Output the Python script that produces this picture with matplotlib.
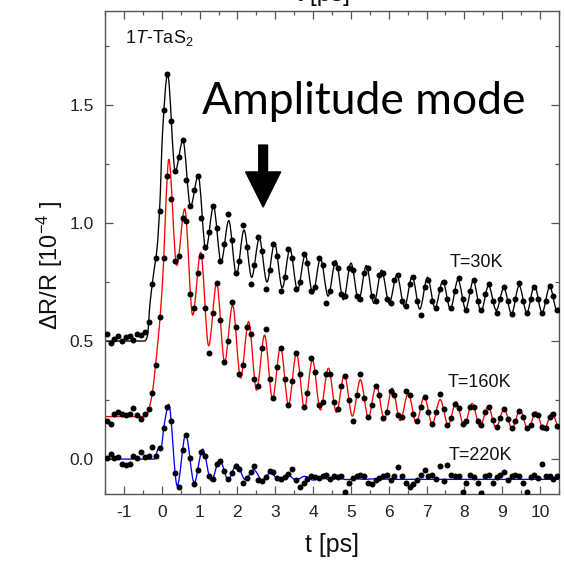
import numpy as np
import matplotlib
matplotlib.use("Agg")
import matplotlib.pyplot as plt
from matplotlib.path import Path
from matplotlib.patches import PathPatch
from matplotlib.ticker import MultipleLocator, FormatStrFormatter

plt.rcParams['font.family'] = ['Liberation Sans', 'DejaVu Sans']
plt.rcParams['mathtext.fontset'] = 'custom'
plt.rcParams['mathtext.rm'] = 'Liberation Sans'
plt.rcParams['mathtext.it'] = 'Liberation Sans:italic'
plt.rcParams['mathtext.sf'] = 'Liberation Sans'
plt.rcParams['axes.unicode_minus'] = False

# ---------------- data ----------------
t_dots = [
    -1.45, -1.35, -1.25, -1.15, -1.05, -0.95, -0.85, -0.75, -0.65, -0.55,
    -0.45, -0.35, -0.25, -0.15, -0.05, 0.05, 0.15, 0.25, 0.35, 0.45,
    0.55, 0.65, 0.75, 0.85, 0.95, 1.05, 1.15, 1.25, 1.35, 1.45,
    1.55, 1.65, 1.75, 1.85, 1.95, 2.05, 2.15, 2.25, 2.35, 2.45,
    2.55, 2.65, 2.75, 2.85, 2.95, 3.05, 3.15, 3.25, 3.35, 3.45,
    3.55, 3.65, 3.75, 3.85, 3.95, 4.05, 4.15, 4.25, 4.35, 4.45,
    4.55, 4.65, 4.75, 4.85, 4.95, 5.05, 5.15, 5.25, 5.35, 5.45,
    5.55, 5.65, 5.75, 5.85, 5.95, 6.05, 6.15, 6.25, 6.35, 6.45,
    6.55, 6.65, 6.75, 6.85, 6.95, 7.05, 7.15, 7.25, 7.35, 7.45,
    7.55, 7.65, 7.75, 7.85, 7.95, 8.05, 8.15, 8.25, 8.35, 8.45,
    8.55, 8.65, 8.75, 8.85, 8.95, 9.05, 9.15, 9.25, 9.35, 9.45,
    9.55, 9.65, 9.75, 9.85, 9.95, 10.05, 10.15, 10.25, 10.35, 10.45]

dots_30K = [
    0.53, 0.49, 0.51, 0.52, 0.50, 0.515, 0.52, 0.505, 0.53, 0.525,
    0.54, 0.58, 0.74, 0.85, 1.05, 1.48, 1.63, 1.43, 1.22, 1.28,
    1.35, 1.18, 1.07, 1.14, 1.20, 1.02, 0.90, 0.96, 1.07, 0.98,
    0.84, 0.91, 1.04, 0.93, 0.79, 0.84, 0.99, 0.90, 0.74, 0.82,
    0.94, 0.88, 0.72, 0.80, 0.91, 0.86, 0.71, 0.77, 0.89, 0.85,
    0.72, 0.75, 0.87, 0.83, 0.71, 0.73, 0.85, 0.82, 0.66, 0.71,
    0.83, 0.81, 0.70, 0.69, 0.81, 0.80, 0.69, 0.68, 0.79, 0.81,
    0.69, 0.67, 0.78, 0.79, 0.68, 0.66, 0.76, 0.78, 0.67, 0.65,
    0.74, 0.77, 0.67, 0.61, 0.73, 0.76, 0.67, 0.64, 0.72, 0.75,
    0.68, 0.64, 0.71, 0.765, 0.68, 0.63, 0.71, 0.76, 0.67, 0.63,
    0.70, 0.74, 0.67, 0.62, 0.68, 0.73, 0.67, 0.615, 0.68, 0.745,
    0.67, 0.62, 0.68, 0.73, 0.68, 0.62, 0.67, 0.735, 0.69, 0.63]

dots_160K = [
    0.16, 0.15, 0.19, 0.20, 0.19, 0.185, 0.19, 0.215, 0.185, 0.17,
    0.19, 0.21, 0.28, 0.40, 0.60, 0.85, 1.20, 1.10, 0.84, 0.86,
    1.02, 1.01, 0.70, 0.64, 0.79, 0.86, 0.64, 0.45, 0.62, 0.745,
    0.59, 0.41, 0.50, 0.665, 0.56, 0.36, 0.40, 0.56, 0.53, 0.34,
    0.31, 0.47, 0.55, 0.34, 0.26, 0.39, 0.47, 0.34, 0.23, 0.33,
    0.45, 0.36, 0.22, 0.28, 0.43, 0.37, 0.23, 0.24, 0.36, 0.36,
    0.24, 0.21, 0.31, 0.35, 0.25, 0.16, 0.27, 0.36, 0.26, 0.18,
    0.23, 0.31, 0.27, 0.175, 0.20, 0.29, 0.27, 0.185, 0.18, 0.29,
    0.27, 0.19, 0.16, 0.22, 0.265, 0.20, 0.15, 0.20, 0.275, 0.21,
    0.145, 0.175, 0.235, 0.215, 0.15, 0.16, 0.22, 0.22, 0.16, 0.145,
    0.20, 0.22, 0.165, 0.135, 0.175, 0.21, 0.17, 0.13, 0.16, 0.205,
    0.18, 0.13, 0.145, 0.19, 0.185, 0.135, 0.13, 0.18, 0.19, 0.14]

dots_220K = [
    0.005, 0.02, 0.005, 0.01, -0.02, -0.025, -0.02, 0.012, 0.005, 0.028,
    0.01, 0.015, 0.05, 0.015, 0.045, 0.13, 0.22, 0.16, -0.06, -0.12,
    0.04, 0.10, 0.005, -0.105, -0.045, 0.03, 0.015, -0.07, -0.085, -0.02,
    -0.01, -0.05, -0.085, -0.06, -0.03, -0.04, -0.10, -0.08, -0.055, -0.03,
    -0.09, -0.095, -0.075, -0.05, -0.055, -0.08, -0.085, -0.075, -0.065, -0.04,
    -0.09, -0.12, -0.10, -0.085, -0.07, -0.075, -0.08, -0.07, -0.068, -0.085,
    -0.07, -0.075, -0.07, -0.14, -0.10, -0.08, -0.07, -0.068, -0.07, -0.10,
    -0.105, -0.09, -0.082, -0.07, -0.068, -0.09, -0.07, -0.035, -0.072, -0.10,
    -0.12, -0.105, -0.09, -0.068, -0.045, -0.07, -0.068, -0.085, -0.03, -0.095,
    -0.025, -0.068, -0.072, -0.07, -0.14, -0.10, -0.068, -0.075, -0.10, -0.145,
    -0.072, -0.068, -0.10, -0.075, -0.068, -0.055, -0.09, -0.072, -0.068, -0.072,
    -0.10, -0.14, -0.075, -0.068, -0.08, -0.02, -0.072, -0.07, -0.085, -0.07]

# fit curves: key points (onset and successive extrema)
fit30_t = [-1.5, -0.45, -0.38, -0.31, -0.22, -0.12, -0.05, 0.02,
           0.155, 0.357, 0.559, 0.761, 0.963, 1.165, 1.367, 1.569, 1.771, 1.973,
           2.175, 2.377, 2.579, 2.781, 2.983, 3.185, 3.387, 3.589, 3.791, 3.993,
           4.195, 4.397, 4.599, 4.801, 5.003, 5.205, 5.407, 5.609, 5.811, 6.013,
           6.215, 6.417, 6.619, 6.821, 7.023, 7.225, 7.427, 7.629, 7.831, 8.033,
           8.235, 8.437, 8.639, 8.841, 9.043, 9.245, 9.447, 9.649, 9.851, 10.053,
           10.255, 10.457, 10.659]
fit30_v = [0.50, 0.50, 0.52, 0.66, 0.78, 0.90, 1.08, 1.38,
           1.63, 1.22, 1.35, 1.07, 1.20, 0.885, 1.07, 0.835, 1.01, 0.78,
           0.97, 0.77, 0.935, 0.75, 0.915, 0.725, 0.89, 0.715, 0.865, 0.70,
           0.85, 0.69, 0.84, 0.675, 0.83, 0.67, 0.82, 0.66, 0.80, 0.66,
           0.78, 0.645, 0.775, 0.635, 0.77, 0.64, 0.755, 0.635, 0.76, 0.635,
           0.755, 0.625, 0.735, 0.63, 0.725, 0.615, 0.735, 0.62, 0.735, 0.62,
           0.73, 0.625, 0.73]

fit160_t = [-1.5, -0.45, -0.38, -0.31, -0.24, -0.17, -0.10, -0.03, 0.05, 0.12,
            0.185, 0.396, 0.607, 0.818, 1.029, 1.240, 1.451, 1.662, 1.873, 2.084,
            2.295, 2.506, 2.717, 2.928, 3.139, 3.350, 3.561, 3.772, 3.983, 4.194,
            4.405, 4.616, 4.827, 5.038, 5.249, 5.460, 5.671, 5.882, 6.093, 6.304,
            6.515, 6.726, 6.937, 7.148, 7.359, 7.570, 7.781, 7.992, 8.203, 8.414,
            8.625, 8.836, 9.047, 9.258, 9.469, 9.680, 9.891, 10.102, 10.313, 10.524]
fit160_v = [0.18, 0.18, 0.19, 0.23, 0.29, 0.39, 0.50, 0.63, 0.84, 1.12,
            1.27, 0.82, 1.06, 0.61, 0.875, 0.48, 0.745, 0.41, 0.652, 0.343,
            0.582, 0.292, 0.525, 0.255, 0.476, 0.23, 0.448, 0.215, 0.42, 0.208,
            0.385, 0.198, 0.358, 0.182, 0.336, 0.176, 0.315, 0.168, 0.30, 0.163,
            0.28, 0.153, 0.265, 0.148, 0.252, 0.144, 0.242, 0.14, 0.236, 0.137,
            0.224, 0.133, 0.212, 0.13, 0.208, 0.125, 0.20, 0.123, 0.196, 0.123]

fit220_t = [-1.5, -0.2, -0.08, -0.03, 0.07,
            0.184, 0.409, 0.633, 0.858, 1.082, 1.307, 1.531, 1.756, 1.98, 2.205,
            2.429, 2.654, 2.878, 3.103, 3.327, 3.552, 3.776, 4.001, 4.225, 4.45,
            4.674, 4.899, 5.123, 5.348, 5.572, 6.2, 10.5]
fit220_v = [0.0, 0.0, 0.045, 0.04, 0.15,
            0.232, -0.113, 0.105, -0.10, 0.042, -0.092, -0.004, -0.088, -0.022, -0.087,
            -0.045, -0.088, -0.058, -0.089, -0.067, -0.089, -0.073, -0.089, -0.078, -0.088,
            -0.081, -0.087, -0.083, -0.086, -0.084, -0.086, -0.086]

labels = ['T=30K', 'T=160K', 'T=220K']
label_pos = [(7.62, 0.834), (7.56, 0.326), (7.59, 0.017)]


def smooth_path(xs, ys):
    """Monotone cubic Hermite path through the given key points (Bezier segments)."""
    x = np.asarray(xs, float)
    y = np.asarray(ys, float)
    h = np.diff(x)
    d = np.diff(y) / h
    n = len(x)
    m = np.zeros(n)
    for i in range(1, n - 1):
        if d[i - 1] * d[i] > 0:
            w1 = 2 * h[i] + h[i - 1]
            w2 = h[i] + 2 * h[i - 1]
            m[i] = (w1 + w2) / (w1 / d[i - 1] + w2 / d[i])
    verts = [(x[0], y[0])]
    codes = [Path.MOVETO]
    for i in range(n - 1):
        verts += [(x[i] + h[i] / 3, y[i] + m[i] * h[i] / 3),
                  (x[i + 1] - h[i] / 3, y[i + 1] - m[i + 1] * h[i] / 3),
                  (x[i + 1], y[i + 1])]
        codes += [Path.CURVE4] * 3
    return Path(verts, codes)


fig = plt.figure(figsize=(5.64, 5.62), dpi=100)
ax = fig.add_axes([105 / 564, 1 - 494 / 562, 454 / 564, 483 / 562])

for ft, fv, col in [(fit30_t, fit30_v, 'black'),
                    (fit160_t, fit160_v, '#ff0000'),
                    (fit220_t, fit220_v, '#0000ff')]:
    ax.add_patch(PathPatch(smooth_path(ft, fv), fill=False, edgecolor=col,
                           lw=0.95, zorder=2))

for dv in (dots_30K, dots_160K, dots_220K):
    ax.plot(t_dots, dv, 'o', ms=4.3, color='black', mec='black', mew=0, zorder=3)

ax.set_xlim(-1.5, 10.5)
ax.set_ylim(-0.148, 1.898)
ax.xaxis.set_major_locator(MultipleLocator(1))
ax.xaxis.set_minor_locator(MultipleLocator(0.5))
ax.yaxis.set_major_locator(MultipleLocator(0.5))
ax.yaxis.set_minor_locator(MultipleLocator(0.25))
ax.yaxis.set_major_formatter(FormatStrFormatter('%.1f'))
ax.tick_params(which='both', direction='in', top=True, right=True,
               color='#555555', labelcolor='#222222', labelsize=12.5, width=0.9)
ax.tick_params(which='major', length=6, pad=8)
ax.tick_params(which='minor', length=3)
for s in ax.spines.values():
    s.set_color('#555555')
    s.set_linewidth(1.0)

for lab, (lx, ly) in zip(labels, label_pos):
    ax.text(lx, ly, lab, fontsize=13, ha='left', va='center', color='#111111')

ax.text(1.07, 1.462, 'Amplitude mode', fontsize=32, family=['Lato', 'DejaVu Sans'],
        ha='left', va='baseline', color='black')
ax.annotate('', xy=(2.68, 1.068), xytext=(2.68, 1.33),
            arrowprops=dict(arrowstyle='simple,head_length=1.8,head_width=1.8,tail_width=0.45',
                            mutation_scale=14, color='black', shrinkA=0, shrinkB=0))

fig.text(125 / 564, 1 - 38 / 562, r'1$\mathit{T}$-TaS$_2$', fontsize=13,
         ha='left', va='center', color='#111111')
fig.text(50 / 564, 1 - 265 / 562, r'ΔR/R [10$^{-4}$ ]', fontsize=17, rotation=90,
         ha='center', va='center', color='#111111')
fig.text(332 / 564, 1 - 545 / 562, 't [ps]', fontsize=18, ha='center', va='center',
         color='#111111')
fig.text(323 / 564, 1 - 0.5 / 562, 't [ps]', fontsize=18, ha='center', va='baseline',
         color='#111111')

fig.savefig('out.png', dpi=100)
